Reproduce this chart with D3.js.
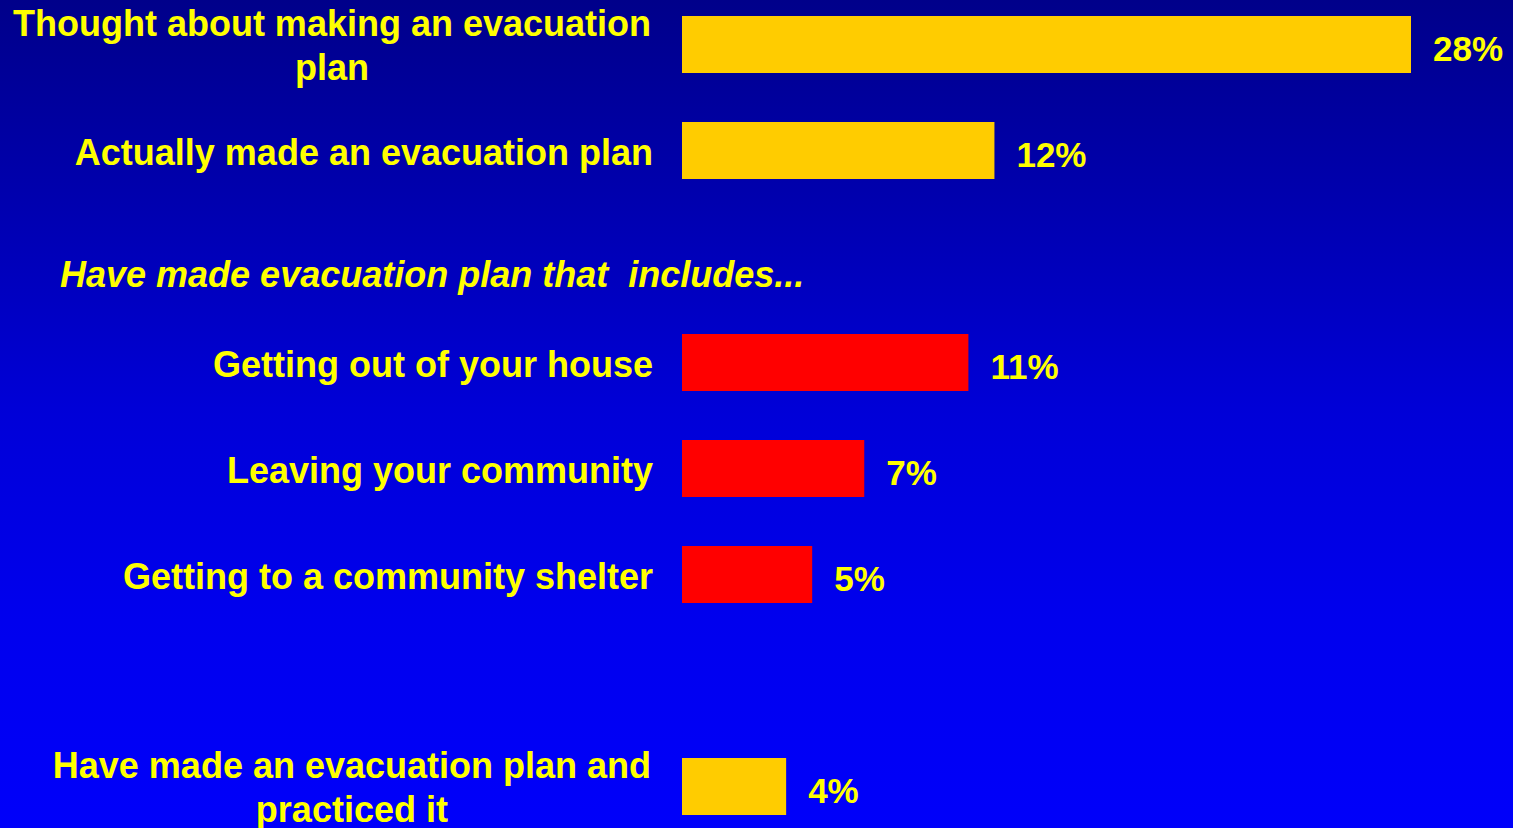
<!DOCTYPE html>
<html>
<head>
<meta charset="utf-8">
<script src="https://cdn.jsdelivr.net/npm/d3@7/dist/d3.min.js"></script>
<style>
  html, body { margin: 0; padding: 0; overflow: hidden; background: #0000c0; }
  svg { display: block; }
  text { font-family: "Liberation Sans", Arial, sans-serif; font-weight: bold; fill: #ffff00; }
</style>
</head>
<body>
<svg id="chart" width="1513" height="828"></svg>
<script>
// ---- data ----
const categories = [
  ["Thought about making an evacuation", "plan"],
  ["Actually made an evacuation plan"],
  ["Getting out of your house"],
  ["Leaving your community"],
  ["Getting to a community shelter"],
  ["Have made an evacuation plan and", "practiced it"]
];
const values = [28, 12, 11, 7, 5, 4];
const groups = ["overall", "overall", "includes", "includes", "includes", "overall"];
const valueLabels = ["28%", "12%", "11%", "7%", "5%", "4%"];
const subHeading = "Have made evacuation plan that\u00a0 includes...";

// row slots (a blank slot for the subheading and one for the gap)
const slots = ["r0", "r1", "head", "r2", "r3", "r4", "gap", "r5"];
const rowSlot = ["r0", "r1", "r2", "r3", "r4", "r5"];

const W = 1513, H = 828;
const svg = d3.select("#chart");

// background gradient
const defs = svg.append("defs");
const grad = defs.append("linearGradient").attr("id", "bg")
  .attr("x1", 0).attr("y1", 0).attr("x2", 0).attr("y2", 1);
[[0, "#00008a"], [0.25, "#0000b0"], [0.5, "#0000d8"], [0.75, "#0000ee"], [1, "#0000fa"]]
  .forEach(([o, c]) => grad.append("stop").attr("offset", o).attr("stop-color", c));
svg.append("rect").attr("width", W).attr("height", H).attr("fill", "url(#bg)");

// scales
const x = d3.scaleLinear().domain([0, 28]).range([682, 1411]);
const y = d3.scalePoint().domain(slots).range([44.5, 786.5]);
const color = d3.scaleOrdinal().domain(["overall", "includes"]).range(["#ffcc00", "#ff0000"]);
const barH = 57;

const rows = values.map((v, i) => ({ v, lines: categories[i], g: groups[i], label: valueLabels[i], slot: rowSlot[i] }));

// bars
svg.append("g").selectAll("rect").data(rows).join("rect")
  .attr("x", x(0))
  .attr("y", d => y(d.slot) - barH / 2)
  .attr("width", d => x(d.v) - x(0))
  .attr("height", barH)
  .attr("fill", d => color(d.g));

// value labels
svg.append("g").selectAll("text").data(rows).join("text")
  .attr("x", d => x(d.v) + 22)
  .attr("y", d => y(d.slot) + 16)
  .attr("font-size", 35)
  .text(d => d.label);

// category labels
const labelRight = 653;
const lineH = 44;
const lg = svg.append("g");
rows.forEach(d => {
  const t = lg.append("text").attr("font-size", 36);
  if (d.lines.length === 1) {
    t.attr("text-anchor", "end").attr("x", labelRight).attr("y", y(d.slot) + 14).text(d.lines[0]);
  } else {
    const spans = d.lines.map((s, k) => t.append("tspan").attr("y", y(d.slot) - 9 + k * lineH).text(s));
    const wmax = d3.max(spans, s => s.node().getComputedTextLength());
    const cx = labelRight - 2 - wmax / 2;
    t.attr("text-anchor", "middle");
    spans.forEach(s => s.attr("x", cx));
  }
});

// subheading
svg.append("text")
  .attr("x", 60).attr("y", y("head") + 30)
  .attr("font-size", 36).attr("font-style", "italic")
  .text(subHeading);
</script>
</body>
</html>
